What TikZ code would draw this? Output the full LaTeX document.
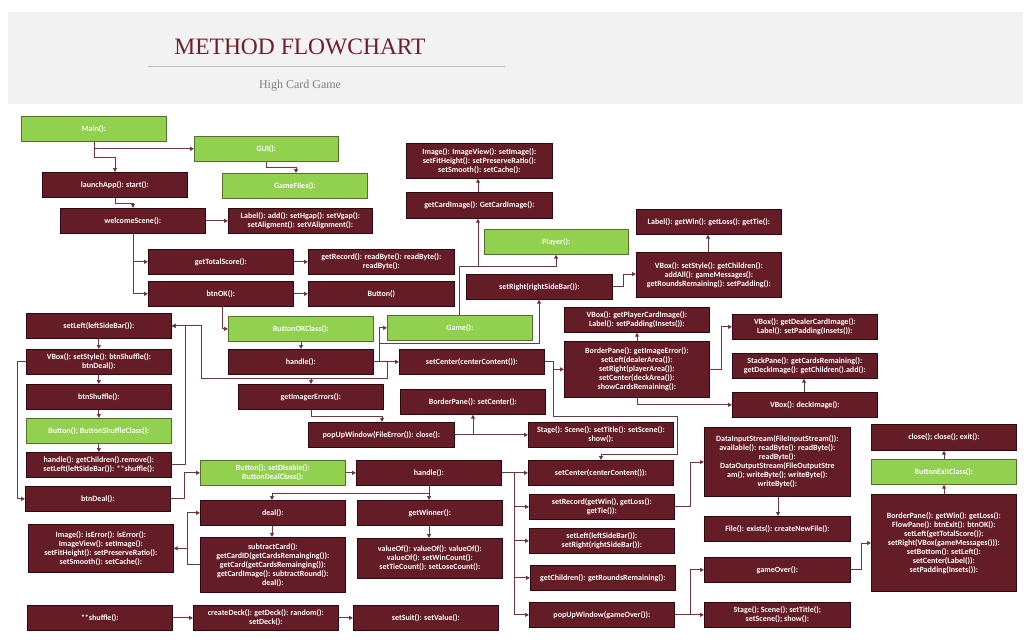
\documentclass[tikz,border=0pt]{standalone}
\usepackage{fontspec}
\setmainfont{Carlito}
\newfontfamily\titlefont{Liberation Serif}
\usetikzlibrary{arrows.meta,calc}
\definecolor{boxred}{HTML}{641C26}
\definecolor{boxedge}{HTML}{2E0A10}
\definecolor{boxgreen}{HTML}{92D050}
\definecolor{greenedge}{HTML}{55702C}
\definecolor{linecol}{HTML}{76343E}
\definecolor{titlecol}{HTML}{6F1F2B}
\definecolor{headbg}{HTML}{F2F2F2}
\newcommand{\mybox}[7]{\node[#1, anchor=north west, minimum width={(#5-#3)*1pt}, minimum height={(#6-#4)*1pt}] (#2) at (#3,#4) {#7};}
\tikzset{
  rbox/.style={fill=boxred, draw=boxedge, line width=0.7pt, text=white, align=center, inner sep=1pt,
    font=\fontsize{8}{9}\selectfont\bfseries},
  gbox/.style={rbox, fill=boxgreen, draw=greenedge},
  conn/.style={draw=linecol, line width=1pt, -{Triangle[length=4pt,width=4pt]}},
}
\begin{document}
\begin{tikzpicture}[x=1pt,y=-1pt]
\useasboundingbox (0,0) rectangle (1031,643);
\fill[white] (0,0) rectangle (1031,643);
% header
\fill[headbg] (8,12) rectangle (1023,104);
\node[text=titlecol, font=\titlefont\fontsize{23.5}{26}\selectfont] (title) at (300,47) {METHOD FLOWCHART};
\draw[draw=black!25, line width=0.8pt] (148,66) -- (505,66);
\node[text=black!50, font=\titlefont\fontsize{12}{14}\selectfont] (subtitle) at (300,86) {High Card Game};
% nodes
\mybox{gbox}{main}{21}{116}{166}{141}{Main():}
\mybox{gbox}{gui}{194}{136}{338}{161}{GUI():}
\mybox{gbox}{gamefiles}{222}{173}{367}{198}{GameFiles():}
\mybox{rbox}{launch}{42}{172}{187}{197}{launchApp(): start():}
\mybox{rbox}{welcome}{60}{208}{205}{233}{welcomeScene():}
\mybox{rbox}{labela}{228}{208}{372}{233}{Label(): add(): setHgap(): setVgap():\\ setAligment(): setVAlignment():}
\mybox{rbox}{totalscore}{148}{249}{293}{274}{getTotalScore():}
\mybox{rbox}{btnok}{148}{281}{293}{306}{btnOK():}
\mybox{rbox}{getrecord}{308}{249}{454}{274}{getRecord(): readByte(): readByte():\\ readByte():}
\mybox{rbox}{button}{308}{281}{454}{306}{Button()}
\mybox{rbox}{imagea}{406}{143}{552}{178}{Image(): ImageView(): setImage():\\ setFitHeight(): setPreserveRatio():\\ setSmooth(): setCache():}
\mybox{rbox}{getcardimage}{406}{192}{552}{218}{getCardImage(): GetCardImage():}
\mybox{gbox}{player}{484}{229}{628}{254}{Player():}
\mybox{rbox}{setright}{466}{274}{612}{299}{setRight(rightSideBar()):}
\mybox{rbox}{labelwin}{636}{209}{781}{234}{Label(): getWin(): getLoss(): getTie():}
\mybox{rbox}{vboxmsg}{636}{252}{781}{297}{VBox(): setStyle(): getChildren():\\ addAll(): gameMessages():\\ getRoundsRemaining(): setPadding():}
\mybox{rbox}{setleft}{26}{313}{171}{338}{setLeft(leftSideBar()):}
\mybox{rbox}{vboxside}{26}{349}{171}{374}{VBox(): setStyle(): btnShuffle():\\ btnDeal():}
\mybox{rbox}{btnshuffle}{26}{384}{171}{409}{btnShuffle():}
\mybox{gbox}{shuffleclass}{26}{418}{171}{443}{Button(); ButtonShuffleClass():}
\mybox{rbox}{handleshuffle}{26}{452}{171}{477}{handle(): getChildren().remove():\\ setLeft(leftSideBar()): **shuffle():}
\mybox{rbox}{btndeal}{25}{486}{170}{511}{btnDeal():}
\mybox{gbox}{okclass}{228}{316}{373}{341}{ButtonOKClass():}
\mybox{rbox}{handleok}{228}{349}{373}{374}{handle():}
\mybox{rbox}{imgerr}{238}{384}{383}{409}{getImagerErrors():}
\mybox{rbox}{popfile}{308}{422}{454}{447}{popUpWindow(FileError()): close():}
\mybox{gbox}{game}{387}{315}{532}{340}{Game():}
\mybox{rbox}{setcentera}{399}{349}{544}{374}{setCenter(centerContent()):}
\mybox{rbox}{bpcenter}{400}{389}{545}{414}{BorderPane(): setCenter():}
\mybox{rbox}{stagea}{528}{422}{673}{447}{Stage(): Scene(): setTitle(): setScene():\\ show():}
\mybox{rbox}{vboxplayer}{564}{307}{709}{332}{VBox(): getPlayerCardImage():\\ Label(): setPadding(Insets()):}
\mybox{rbox}{bpmain}{564}{341}{709}{397}{BorderPane(): getImageError():\\ setLeft(dealerArea()):\\ setRight(playerArea()):\\ setCenter(deckArea()):\\ showCardsRemaining():}
\mybox{rbox}{vboxdealer}{732}{314}{877}{339}{VBox(): getDealerCardImage():\\ Label(): setPadding(Insets()):}
\mybox{rbox}{stackpane}{732}{353}{877}{378}{StackPane(): getCardsRemaining():\\ getDeckImage(): getChildren().add():}
\mybox{rbox}{vboxdeck}{732}{392}{877}{417}{VBox(): deckImage():}
\mybox{rbox}{datastream}{704}{427}{850}{496}{DataInputStream(FileInputStream()):\\ available(): readByte(): readByte():\\ readByte():\\ DataOutputStream(FileOutputStre\\ am(); writeByte(); writeByte():\\ writeByte():}
\mybox{rbox}{filebox}{704}{516}{850}{541}{File(): exists(): createNewFile():}
\mybox{rbox}{gameover}{704}{557}{850}{582}{gameOver():}
\mybox{rbox}{stageb}{704}{602}{850}{627}{Stage(); Scene(); setTitle();\\ setScene(); show():}
\mybox{rbox}{closeexit}{871}{424}{1016}{450}{close(); close(); exit():}
\mybox{gbox}{exitclass}{871}{459}{1016}{484}{ButtonExitClass():}
\mybox{rbox}{bpfinal}{871}{494}{1016}{591}{BorderPane(): getWin(): getLoss():\\ FlowPane(): btnExit(): btnOK():\\ setLeft(getTotalScore()):\\ setRight(VBox(gameMessages())):\\ setBottom(): setLeft():\\ setCenter(Label()):\\ setPadding(Insets()):}
\mybox{gbox}{dealclass}{200}{460}{345}{485}{Button(): setDisable():\\ ButtonDealClass():}
\mybox{rbox}{handledeal}{356}{460}{501}{485}{handle():}
\mybox{rbox}{deal}{200}{500}{345}{525}{deal():}
\mybox{rbox}{subtract}{200}{537}{345}{592}{subtractCard():\\ getCardID(getCardsRemainging()):\\ getCard(getCardsRemainging()):\\ getCardImage(): subtractRound():\\ deal():}
\mybox{rbox}{getwinner}{357}{500}{502}{525}{getWinner():}
\mybox{rbox}{valueof}{357}{538}{502}{578}{valueOf(): valueOf(): valueOf():\\ valueOf(): setWinCount():\\ setTieCount(): setLoseCount():}
\mybox{rbox}{imageerr}{28}{524}{173}{572}{Image(): isError(): isError():\\ ImageView(): setImage():\\ setFitHeight(): setPreserveRatio():\\ setSmooth(): setCache():}
\mybox{rbox}{shuffle}{27}{605}{172}{630}{**shuffle():}
\mybox{rbox}{createdeck}{193}{605}{338}{630}{createDeck(): getDeck(): random():\\ setDeck():}
\mybox{rbox}{setsuit}{353}{605}{498}{630}{setSuit(): setValue():}
\mybox{rbox}{setcenterb}{528}{460}{673}{485}{setCenter(centerContent()):}
\mybox{rbox}{setrecord}{529}{494}{674}{519}{setRecord(getWin(), getLoss():\\ getTie()):}
\mybox{rbox}{setleftright}{529}{528}{674}{553}{setLeft(leftSideBar()):\\ setRight(rightSideBar()):}
\mybox{rbox}{getchildren}{530}{565}{675}{590}{getChildren(): getRoundsRemaining():}
\mybox{rbox}{popgameover}{529}{602}{674}{627}{popUpWindow(gameOver()):}
% connectors
\draw[conn] ($(main.south west)+(73,0)$) |- (gui.west);
\draw[conn] ($(main.south west)+(73,0)$) -- ++(0,16) -| ($(launch.north west)+(73,0)$);
\draw[conn] ($(gui.south west)+(72,0)$) -- ++(0,6) -| ($(gamefiles.north west)+(74,0)$);
\draw[conn] ($(launch.south west)+(73,0)$) -- ++(0,6) -| ($(welcome.north west)+(73,0)$);
\draw[conn] (welcome.east) -- (labela.west);
\draw[conn] ($(welcome.south west)+(73,0)$) |- (totalscore.west);
\draw[conn] ($(welcome.south west)+(73,0)$) |- (btnok.west);
\draw[conn] (totalscore.east) -- (getrecord.west);
\draw[conn] (btnok.east) -- (button.west);
\draw[conn] ($(btnok.south west)+(74,0)$) |- (okclass.west);
\draw[conn] ($(okclass.south west)+(73,0)$) -- ($(handleok.north west)+(73,0)$);
\draw[conn] (handleok.east) -- (setcentera.west);
\draw[conn] (handleok.east) -- ++(6,0) |- (game.west);
\draw[conn] (handleok.east) -- ++(6,0) -- ++(0,-18) -| ($(setright.south west)+(73,0)$);
\draw[conn] (handleok.east) -- ++(14,0) -- ++(0,17) -- ++(-186,0) |- (setleft.east);
\draw[conn] (handleok.east) -- ++(14,0) -- ++(0,17) -| ($(imgerr.north west)+(73,0)$);
\draw[conn] ($(imgerr.south west)+(73,0)$) -- ++(0,7) -| ($(popfile.north west)+(74,0)$);
\draw[conn] (popfile.east) -- (stagea.west);
\draw[conn] (popfile.east) -| ($(bpcenter.south west)+(73,0)$);
\draw[conn] ($(game.north west)+(72,0)$) -- ++(0,-49) -| ($(getcardimage.south west)+(72,0)$);
\draw[conn] ($(game.north west)+(72,0)$) -- ++(0,-49) -| ($(player.south west)+(72,0)$);
\draw[conn] ($(getcardimage.north west)+(72,0)$) -- ($(imagea.south west)+(72,0)$);
\draw[conn] (setright.east) -- ++(11,0) |- ($(vboxmsg.north west)+(0,22)$);
\draw[conn] ($(vboxmsg.north west)+(72,0)$) -- ($(labelwin.south west)+(72,0)$);
\draw[conn] (setcentera.east) -- ++(9,0) |- (bpmain.west);
\draw[conn] (setcentera.east) -- ++(9,0) -- ++(0,55) -- ++(124,0) -- ++(0,38) -| ($(setcenterb.north west)+(73,0)$);
\draw[conn] ($(bpmain.north west)+(73,0)$) -- ($(vboxplayer.south west)+(73,0)$);
\draw[conn] (bpmain.east) -- ++(12,0) |- (vboxdealer.west);
\draw[conn] ($(bpmain.south west)+(73,0)$) |- (vboxdeck.west);
\draw[conn] ($(vboxdeck.north west)+(72,0)$) -- ($(stackpane.south west)+(72,0)$);
\draw[conn] (setleft.south) -- (vboxside.north);
\draw[conn] (vboxside.south) -- (btnshuffle.north);
\draw[conn] (btnshuffle.south) -- (shuffleclass.north);
\draw[conn] (shuffleclass.south) -- (handleshuffle.north);
\draw[conn] (vboxside.west) -- ++(-9,0) |- (btndeal.west);
\draw[conn] (handleshuffle.east) -- ++(14,0) |- (setleft.east);
\draw[conn] (btndeal.east) -- ++(14,0) |- (dealclass.west);
\draw[conn] (dealclass.east) -- (handledeal.west);
\draw[conn] ($(handledeal.south west)+(73,0)$) -- ($(getwinner.north west)+(72,0)$);
\draw[conn] ($(handledeal.south west)+(73,0)$) -- ++(0,8) -| ($(deal.north west)+(72,0)$);
\draw[conn] ($(deal.south west)+(72,0)$) -- ($(subtract.north west)+(72,0)$);
\draw[conn] ($(getwinner.south west)+(72,0)$) -- ($(valueof.north west)+(72,0)$);
\draw[conn] (subtract.west) -- ++(-13,0) |- (deal.west);
\draw[conn] (subtract.west) -- ++(-13,0) |- (imageerr.east);
\draw[conn] (handledeal.east) -- (setcenterb.west);
\draw[conn] (handledeal.east) -- ++(13,0) |- (setrecord.west);
\draw[conn] (handledeal.east) -- ++(13,0) |- (setleftright.west);
\draw[conn] (handledeal.east) -- ++(13,0) |- (getchildren.west);
\draw[conn] (handledeal.east) -- ++(13,0) |- (popgameover.west);
\draw[conn] (setrecord.east) -- ++(16,0) |- ($(datastream.north west)+(0,35)$);
\draw[conn] ($(datastream.south west)+(74,0)$) -- ($(filebox.north west)+(74,0)$);
\draw[conn] (popgameover.east) -- ++(16,0) |- (gameover.west);
\draw[conn] (popgameover.east) -- (stageb.west);
\draw[conn] (gameover.east) -- ++(11,0) |- ($(bpfinal.north west)+(0,49)$);
\draw[conn] ($(bpfinal.north west)+(73,0)$) -- ($(exitclass.south west)+(73,0)$);
\draw[conn] ($(exitclass.north west)+(73,0)$) -- ($(closeexit.south west)+(73,0)$);
\draw[conn] (shuffle.east) -- (createdeck.west);
\draw[conn] (createdeck.east) -- (setsuit.west);
\end{tikzpicture}
\end{document}
